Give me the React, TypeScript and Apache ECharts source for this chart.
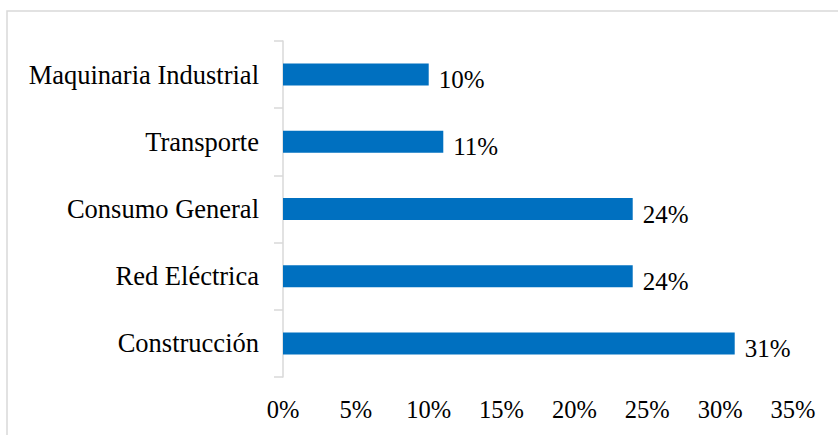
import React, { useEffect, useRef } from "react";
import * as echarts from "echarts";

const categories = ["Construcción", "Red Eléctrica", "Consumo General", "Transporte", "Maquinaria Industrial"];
const values = [31, 24, 24, 11, 10];
const xTicks = [0, 5, 10, 15, 20, 25, 30, 35];

export default function App() {
  const ref = useRef<HTMLDivElement>(null);
  useEffect(() => {
    if (!ref.current) return;
    const chart = echarts.init(ref.current, null, { renderer: "svg" });
    const font = "'Liberation Serif', 'Times New Roman', serif";
    chart.setOption({
      animation: false,
      backgroundColor: "#ffffff",
      textStyle: { fontFamily: font },
      graphic: [
        {
          type: "rect",
          shape: { x: 7, y: 11, width: 900, height: 500 },
          style: { fill: "none", stroke: "#d9d9d9", lineWidth: 1.5 },
          silent: true,
        },
      ],
      grid: { left: 283, right: 45, top: 41, bottom: 58, containLabel: false },
      xAxis: {
        type: "value",
        min: xTicks[0],
        max: xTicks[xTicks.length - 1],
        interval: 5,
        axisLine: { show: false },
        axisTick: { show: false },
        splitLine: { show: false },
        axisLabel: {
          formatter: (v: number) => v + "%",
          color: "#000",
          fontSize: 24.5,
          fontFamily: font,
          margin: 20,
        },
      },
      yAxis: {
        type: "category",
        data: categories,
        axisLine: { show: true, lineStyle: { color: "#d9d9d9", width: 1.5 } },
        axisTick: { show: true, length: 9, lineStyle: { color: "#d9d9d9", width: 1.5 } },
        axisLabel: { color: "#000", fontSize: 26.5, fontFamily: font, margin: 24 },
        splitLine: { show: false },
      },
      series: [
        {
          type: "bar",
          data: values,
          barWidth: 22,
          itemStyle: { color: "#0070C0" },
          label: {
            show: true,
            position: "right",
            distance: 10,
            offset: [0, 5],
            formatter: (p: any) => p.value + "%",
            color: "#000",
            fontSize: 25,
            fontFamily: font,
          },
        },
      ],
    });
    return () => chart.dispose();
  }, []);
  return <div ref={ref} style={{ width: 838, height: 435, position: "absolute", left: 0, top: 0 }} />;
}
